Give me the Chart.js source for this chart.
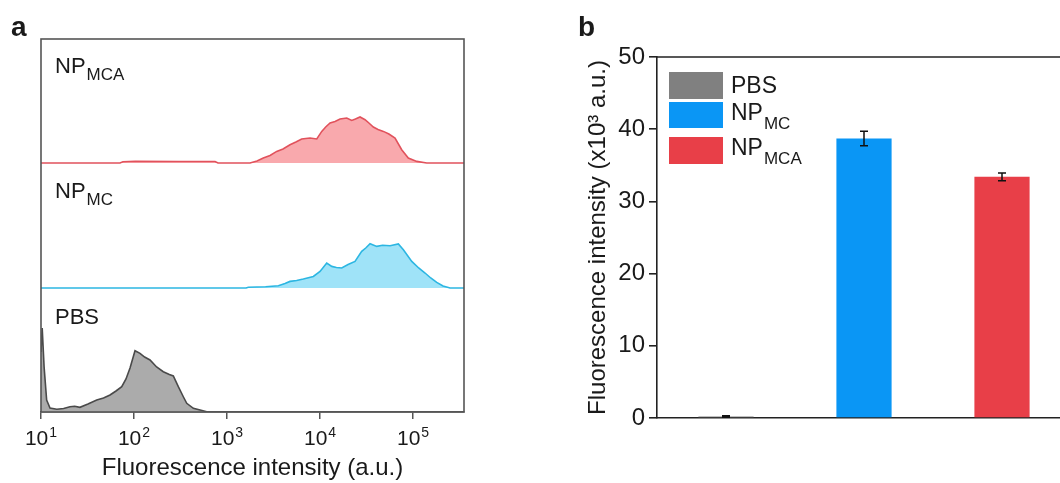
<!DOCTYPE html>
<html><head><meta charset="utf-8">
<script src="https://cdn.jsdelivr.net/npm/chart.js@4.4.1/dist/chart.umd.min.js"></script>
<style>
html,body{margin:0;padding:0;background:#fff;overflow:hidden;width:1060px;height:483px;}
#ca{position:absolute;left:0;top:0;}
#cb{position:absolute;left:540px;top:0;}
</style></head><body>
<canvas id="ca" width="480" height="483"></canvas>
<canvas id="cb" width="580" height="483"></canvas>
<script>
// ---------- Panel a: flow cytometry histograms ----------
const pbsIntensity = [10, 10.3, 10.8, 11.5, 12.5, 14.8, 17.5, 20.5, 23, 26.2, 32, 39.7, 47, 55.2, 64, 73.8, 82, 90.6, 102.5, 116, 130, 148.6, 175, 206.5, 240, 264.6, 299.5, 340, 368.9, 434.6, 605.5];
const pbsCount     = [60, 84, 45, 12, 4, 2.7, 3.5, 5.3, 5.8, 4.7, 8, 12, 14, 17, 21, 25.3, 33, 44, 61.3, 58.7, 55, 52, 45, 40.3, 37.5, 36, 25.3, 15, 8.7, 3.7, 0.3];

const mcIntensity = [10, 1600, 1694, 2600, 3565, 4200, 4755, 5600, 6610, 8470, 10000, 11800, 13370, 15000, 17110, 20000, 23770, 28050, 31000, 34500, 40740, 47000, 56620, 69500, 78700, 96900, 115000, 134600, 155000, 179700, 210000, 250000, 353000];
const mcCount     = [0, 0, 0.8, 1.2, 2.3, 4.5, 6.6, 7.5, 9, 11.6, 16.6, 25, 21.6, 20.5, 20, 23.5, 26.6, 36.6, 40, 44.3, 41.6, 42.8, 42.3, 44, 38.3, 26.6, 20, 15, 10, 5.6, 2, 0, 0];

const mcaIntensity = [10, 70.6, 76, 103, 300, 743, 800, 1766, 2100, 2455, 2900, 3420, 4000, 4755, 5500, 6350, 7800, 9225, 10430, 11500, 12820, 14500, 16410, 19370, 21920, 24000, 26920, 30480, 34000, 37410, 42000, 47960, 55000, 64000, 75500, 88900, 109600, 140300, 353000];
const mcaCount     = [0, 0, 1.2, 1.8, 1.5, 1.5, 0, 0, 2, 5, 7.5, 11.6, 14, 18.3, 21, 24, 25, 24, 31.6, 36, 40, 41.5, 44, 45, 42.6, 44, 46, 43.3, 39.5, 36, 33.5, 31.6, 29, 25, 13.3, 5, 1.6, 0, 0];

const histLabelMain = ['NP', 'NP', 'PBS'];
const histLabelSub  = ['MCA', 'MC', ''];

const xTickValues = [10, 100, 1000, 10000, 100000];
const xTickBase = '10';
const xTickExp = ['1', '2', '3', '4', '5'];

// ---------- Panel b: mean fluorescence bars ----------
const barCategories = ['PBS', 'NP_MC', 'NP_MCA'];
const barLabelMain = ['PBS', 'NP', 'NP'];
const barLabelSub = ['', 'MC', 'MCA'];
const barMeans = [0.2, 38.7, 33.4];
const barErrors = [0.1, 1.0, 0.55];

const F = '"Liberation Sans", Arial, Helvetica, sans-serif';
const TXT = '#1a1a1a';

function pts(xs, ys, off) { return xs.map((x, i) => ({x: x, y: ys[i] + off})); }

function drawSubText(ctx, x, y, main, sub, mainSize, subSize, subDy) {
  ctx.font = mainSize + 'px ' + F;
  ctx.textAlign = 'left';
  ctx.textBaseline = 'alphabetic';
  ctx.fillText(main, x, y);
  const w = ctx.measureText(main).width;
  if (sub) {
    ctx.font = subSize + 'px ' + F;
    ctx.fillText(sub, x + w + 1, y + subDy);
  }
}

const OFF_MCA = 249, OFF_MC = 124, OFF_PBS = 0;

const pluginA = {
  id: 'annotA',
  afterDraw(chart) {
    const ctx = chart.ctx, a = chart.chartArea;
    ctx.save();
    ctx.strokeStyle = '#555';
    ctx.lineWidth = 1.6;
    ctx.strokeRect(a.left, a.top, a.right - a.left, a.bottom - a.top);
    const xs = chart.scales.x;
    ctx.fillStyle = TXT;
    xTickValues.forEach((v, i) => {
      const px = xs.getPixelForValue(v);
      ctx.font = '21px ' + F;
      const wb = ctx.measureText(xTickBase).width;
      ctx.font = '14px ' + F;
      const we = ctx.measureText(xTickExp[i]).width;
      const x0 = px - (wb + we + 1) / 2;
      ctx.textAlign = 'left'; ctx.textBaseline = 'alphabetic';
      ctx.font = '21px ' + F;
      ctx.fillText(xTickBase, x0, 445);
      ctx.font = '14px ' + F;
      ctx.fillText(xTickExp[i], x0 + wb + 1, 437);
    });
    const ys = [73, 198, 324];
    histLabelMain.forEach((m, i) => drawSubText(ctx, 55, ys[i], m, histLabelSub[i], 22, 17, 6.5));
    ctx.font = 'bold 28px ' + F;
    ctx.textAlign = 'left';
    ctx.fillText('a', 11, 36);
    ctx.restore();
  }
};

new Chart(document.getElementById('ca'), {
  type: 'line',
  data: {
    datasets: [
      {label: 'NP_MCA', data: pts(mcaIntensity, mcaCount, OFF_MCA), borderColor: '#e1525c', backgroundColor: '#f9a9ad', fill: {value: OFF_MCA}, borderWidth: 1.6, pointRadius: 0, tension: 0},
      {label: 'NP_MC', data: pts(mcIntensity, mcCount, OFF_MC), borderColor: '#2cb6e2', backgroundColor: '#9fe3f8', fill: {value: OFF_MC}, borderWidth: 1.6, pointRadius: 0, tension: 0},
      {label: 'PBS', data: pts(pbsIntensity, pbsCount, OFF_PBS), borderColor: '#4a4a4a', backgroundColor: '#ababab', fill: {value: OFF_PBS}, borderWidth: 1.6, pointRadius: 0, tension: 0}
    ]
  },
  options: {
    responsive: false, animation: false,
    layout: {padding: {left: 41, right: 16, top: 39, bottom: 0}},
    plugins: {legend: {display: false}, tooltip: {enabled: false}},
    scales: {
      x: {
        type: 'logarithmic', min: 10, max: 353000,
        afterBuildTicks: s => { s.ticks = xTickValues.map(v => ({value: v})); },
        ticks: {display: false},
        grid: {display: true, drawOnChartArea: false, drawTicks: true, tickLength: 7, color: '#555', lineWidth: 1.5},
        border: {display: true, color: '#555', width: 1.6},
        title: {display: true, text: 'Fluorescence intensity (a.u.)', font: {size: 24, family: F}, color: TXT, padding: {top: 0, bottom: 0}},
        afterFit: s => { s.height = 71; }
      },
      y: {display: false, min: 0, max: 373}
    }
  },
  plugins: [pluginA]
});

// ---------- Panel b chart ----------
const barColors = ['#808080', '#0a96f5', '#e83f48'];

const pluginB = {
  id: 'annotB',
  afterDraw(chart) {
    const ctx = chart.ctx, a = chart.chartArea;
    const xs = chart.scales.x, ys = chart.scales.y;
    ctx.save();
    ctx.strokeStyle = '#222';
    ctx.lineWidth = 1.6;
    ctx.beginPath();
    ctx.moveTo(a.left, a.top); ctx.lineTo(a.right, a.top); ctx.lineTo(a.right, a.bottom);
    ctx.stroke();
    ctx.strokeStyle = '#111';
    ctx.lineWidth = 1.5;
    barMeans.forEach((m, i) => {
      const px = xs.getPixelForValue(i);
      const yt = ys.getPixelForValue(m + barErrors[i]);
      const yb = ys.getPixelForValue(m - barErrors[i]);
      ctx.beginPath();
      ctx.moveTo(px, yt); ctx.lineTo(px, yb);
      ctx.moveTo(px - 4, yt); ctx.lineTo(px + 4, yt);
      ctx.moveTo(px - 4, yb); ctx.lineTo(px + 4, yb);
      ctx.stroke();
    });
    const boxX = 669 - 540, boxW = 54;
    const boxes = [[72, 27], [102, 26], [137, 27]];
    const base = [93, 120, 155];
    barCategories.forEach((c, i) => {
      ctx.fillStyle = barColors[i];
      ctx.fillRect(boxX, boxes[i][0], boxW, boxes[i][1]);
      ctx.fillStyle = TXT;
      drawSubText(ctx, 731 - 540, base[i], barLabelMain[i], barLabelSub[i], 23, 17, 9);
    });
    ctx.fillStyle = TXT;
    ctx.font = 'bold 28px ' + F;
    ctx.textAlign = 'left'; ctx.textBaseline = 'alphabetic';
    ctx.fillText('b', 578 - 540, 36);
    ctx.restore();
  }
};

new Chart(document.getElementById('cb'), {
  type: 'bar',
  data: {
    labels: barCategories,
    datasets: [{data: barMeans, backgroundColor: barColors, borderWidth: 0, barPercentage: 0.4, categoryPercentage: 1}]
  },
  options: {
    responsive: false, animation: false,
    layout: {padding: {left: 0, right: 49, top: 57, bottom: 0}},
    plugins: {legend: {display: false}, tooltip: {enabled: false}},
    scales: {
      x: {
        ticks: {display: false}, grid: {display: false},
        border: {display: true, color: '#222', width: 1.6},
        afterFit: s => { s.height = 65; }
      },
      y: {
        min: 0, max: 50,
        ticks: {stepSize: 10, font: {size: 24, family: F}, color: TXT, padding: 4},
        grid: {drawOnChartArea: false, drawTicks: true, tickLength: 8, color: '#222', lineWidth: 1.6},
        border: {display: true, color: '#222', width: 1.6},
        title: {display: true, text: 'Fluorescence intensity (x10³ a.u.)', font: {size: 24, family: F}, color: TXT, padding: {top: 44, bottom: 0}},
        afterFit: s => { s.width = 117; }
      }
    }
  },
  plugins: [pluginB]
});
</script>
</body></html>
